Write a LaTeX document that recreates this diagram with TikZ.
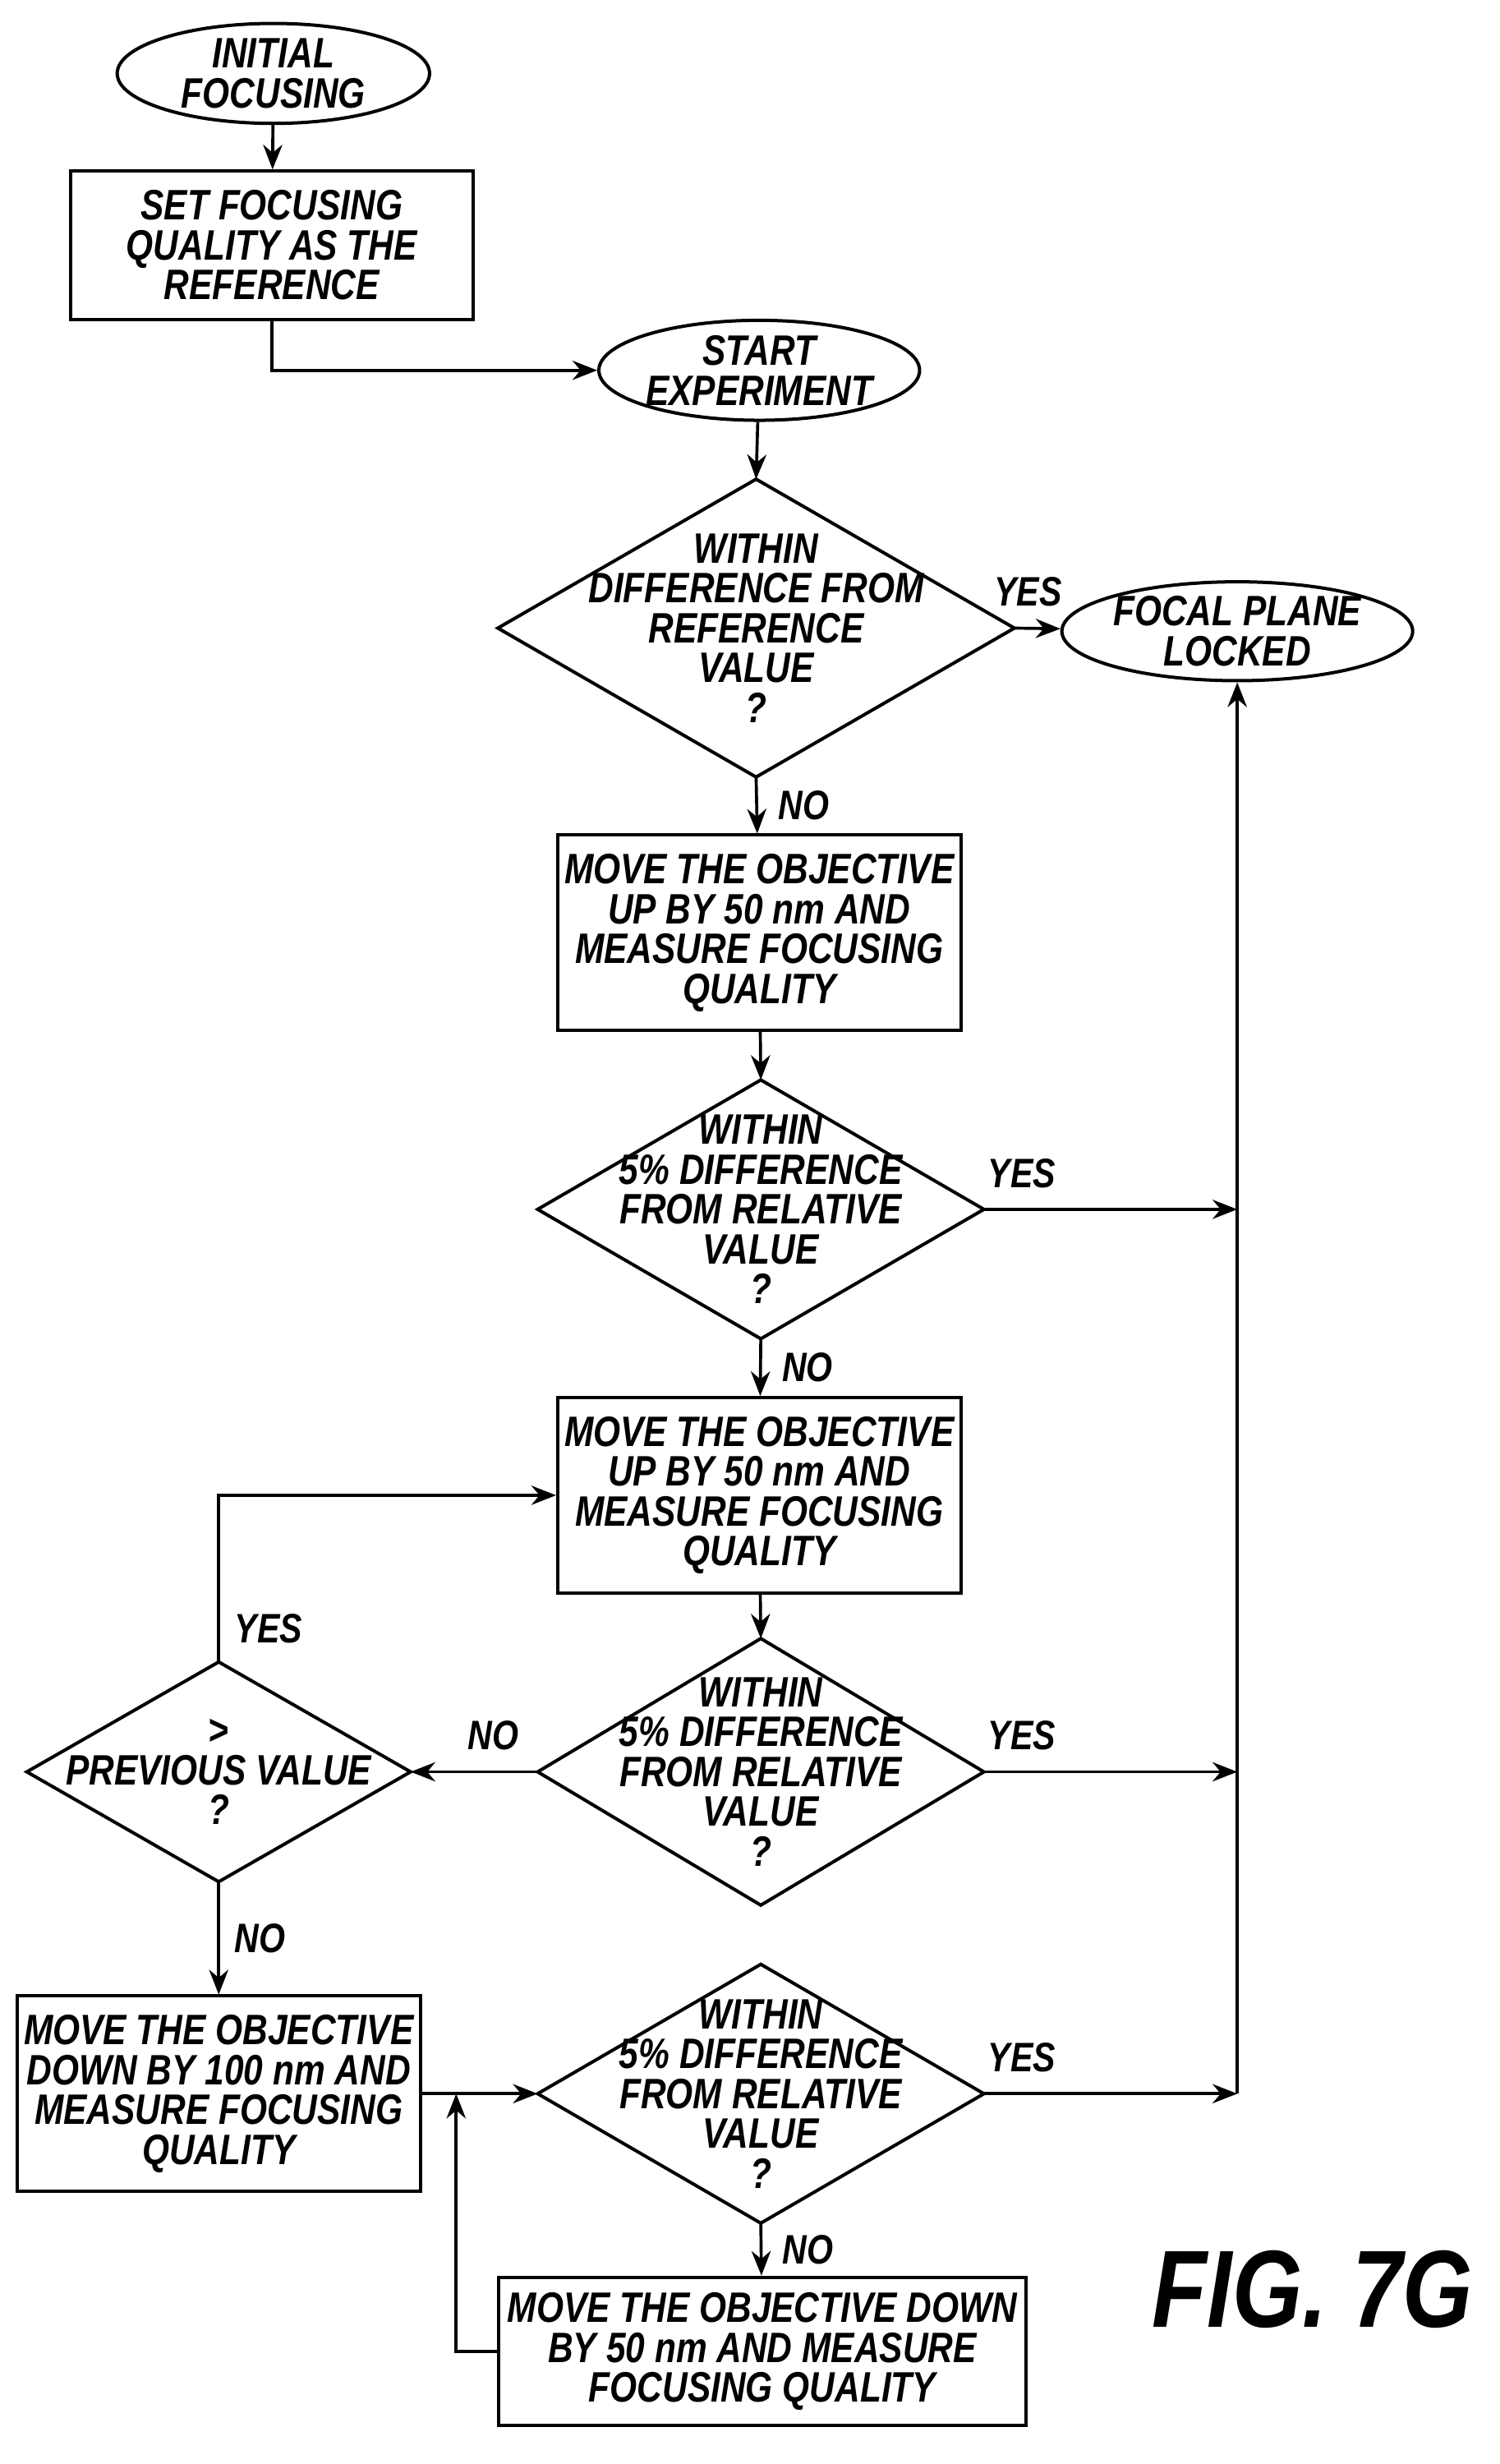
\documentclass[tikz,border=0pt]{standalone}
\usepackage{fontspec}
\setmainfont{Liberation Sans}[FakeStretch=0.82]
\usetikzlibrary{shapes.geometric,arrows.meta}
\tikzset{
	ovalnode/.style={ellipse, draw, line width=1.2pt, minimum width=4cm, minimum height=1.28cm, inner sep=0pt, align=center},
	rectnode/.style={rectangle, draw, line width=1.2pt, minimum width=5.16cm, minimum height=2.5cm, inner sep=0pt, align=center},
	decnode/.style={rectangle, inner sep=0pt, minimum width=5.7cm, minimum height=3.3cm, align=center,
		append after command={\pgfextra{\draw[line width=1.2pt] (\tikzlastnode.north) -- (\tikzlastnode.east) -- (\tikzlastnode.south) -- (\tikzlastnode.west) -- cycle;}}},
	lbl/.style={font=\bfseries\itshape\fontsize{15}{15}\selectfont},
	flow/.style={-{Stealth[length=9pt,width=7pt]}, line width=1.1pt}
}
\begin{document}
\begin{tikzpicture}[x=0.02cm, y=-0.02cm, every node/.append style={font=\bfseries\itshape\fontsize{15.5}{14.5}\selectfont}]
		\useasboundingbox (0,0) rectangle (960,1577);
		\node[ovalnode] at (175,47) (init)    {INITIAL\\FOCUSING};
		\node[rectnode, minimum height=1.9cm] at (174,157) (setref)    {SET FOCUSING\\QUALITY AS THE\\REFERENCE};
		\node[ovalnode] at (486,237) (start)    {START\\EXPERIMENT};
		\node[decnode, minimum width=6.6cm, minimum height=3.8cm] at (484,402) (chkref)    {WITHIN\\DIFFERENCE FROM\\REFERENCE\\VALUE\\?};
		\node[ovalnode, minimum height=1.24cm] at (792,404) (locked)    {FOCAL PLANE\\LOCKED};
		\node[rectnode] at (486,597) (upA)    {MOVE THE OBJECTIVE\\UP BY 50 nm AND\\MEASURE FOCUSING\\QUALITY};
		\node[decnode] at (487,774) (chkA)    {WITHIN\\5\% DIFFERENCE\\FROM RELATIVE\\VALUE\\?};
		\node[rectnode] at (486,957) (upB)    {MOVE THE OBJECTIVE\\UP BY 50 nm AND\\MEASURE FOCUSING\\QUALITY};
		\node[decnode, minimum height=3.4cm] at (487,1134) (chkB)    {WITHIN\\5\% DIFFERENCE\\FROM RELATIVE\\VALUE\\?};
		\node[decnode, minimum width=4.9cm, minimum height=2.8cm] at (140,1134) (prev)    {>\\PREVIOUS VALUE\\?};
		\node[rectnode] at (140,1340) (down100)    {MOVE THE OBJECTIVE\\DOWN BY 100 nm AND\\MEASURE FOCUSING\\QUALITY};
		\node[decnode] at (487,1340) (chkC)    {WITHIN\\5\% DIFFERENCE\\FROM RELATIVE\\VALUE\\?};
		\node[rectnode, minimum width=6.76cm, minimum height=1.9cm] at (488,1505) (down50)    {MOVE THE OBJECTIVE DOWN\\BY 50 nm AND MEASURE\\FOCUSING QUALITY};
		\node[font=\bfseries\itshape\fontsize{40}{40}\selectfont] at (840,1465) (fig)    {FIG. 7G};
		\coordinate (rA) at (792,774);
		\coordinate (rB) at (792,1134);
		\coordinate (rC) at (792,1340);
		\coordinate (loop) at (292,1340);
		%Lines
		\draw[flow] (init) -- (setref);
		\draw[flow] (setref.south) |- (start);
		\draw[flow] (start) -- (chkref.north);
		\draw[flow] (chkref.east) -- node[lbl, above=4pt, pos=0.3] {YES} (locked);
		\draw[flow] (chkref.south) -- node[lbl, right=4pt] {NO} (upA);
		\draw[flow] (upA) -- (chkA.north);
		\draw[flow] (chkA.south) -- node[lbl, right=4pt] {NO} (upB);
		\draw[flow] (chkA.east) -- node[lbl, above=4pt, pos=0.15] {YES} (rA);
		\draw[flow] (upB) -- (chkB.north);
		\draw[flow] (chkB.east) -- node[lbl, above=4pt, pos=0.15] {YES} (rB);
		\draw[flow] (chkB.west) -- node[lbl, above=4pt, pos=0.35] {NO} (prev.east);
		\draw[flow] (prev.north) |- node[lbl, right=2pt, pos=0.1] {YES} (upB.west);
		\draw[flow] (prev.south) -- node[lbl, right=2pt] {NO} (down100);
		\draw[flow] (down100) -- (chkC.west);
		\draw[flow] (chkC.east) -- node[lbl, above=4pt, pos=0.15] {YES} (rC);
		\draw[flow] (chkC.south) -- node[lbl, right=4pt] {NO} (down50);
		\draw[flow] (down50.west) -| (loop);
		\draw[flow] (rC) -- (locked.south);
	\end{tikzpicture}
\end{document}
